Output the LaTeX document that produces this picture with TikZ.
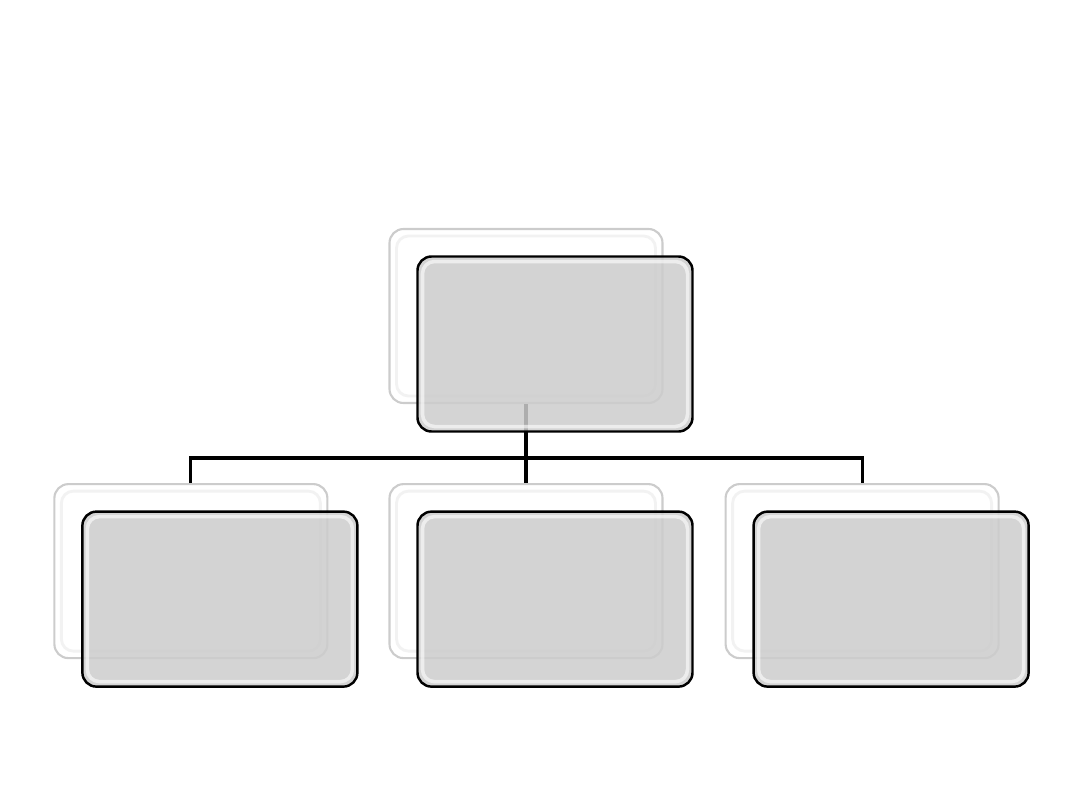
\documentclass[tikz,border=0pt]{standalone}
\usepackage{xcolor}
\usepackage{tikz}
\usetikzlibrary{positioning, backgrounds}

\begin{document}
\begin{tikzpicture}[
    x=1cm, y=1cm,
    backbox/.style={rectangle, draw=gray!40, line width=0.6pt, fill=white, rounded corners=0.14cm, minimum width=2.73cm, minimum height=1.74cm, inner sep=0pt,
        path picture={\draw[gray!10, line width=0.8pt, rounded corners=0.12cm] ([shift={(0.07,0.07)}]path picture bounding box.south west) rectangle ([shift={(-0.07,-0.07)}]path picture bounding box.north east);}},
    frontbox/.style={rectangle, draw=black, line width=0.7pt, fill=gray!40, fill opacity=0.85, draw opacity=1, rounded corners=0.14cm, minimum width=2.75cm, minimum height=1.75cm, inner sep=0pt,
        path picture={\draw[white, opacity=0.6, line width=1pt, rounded corners=0.12cm] ([shift={(0.05,0.05)}]path picture bounding box.south west) rectangle ([shift={(-0.05,-0.05)}]path picture bounding box.north east);}},
    link/.style={draw=black, line width=0.9pt}
]

% Page
\useasboundingbox (0,0) rectangle (10.8,8.1);

% Back boxes
\node[backbox] (topb) at (5.26,4.94) {};
\node[backbox, below=0.79cm of topb] (midb) {};
\node[backbox, left=0.6cm of midb] (leftb) {};
\node[backbox, right=0.61cm of midb] (rightb) {};

% Connectors
\coordinate (bus) at ([yshift=0.25cm]midb.north);
\draw[link] (topb.south) -- (midb.north);
\draw[link] (leftb.north) |- (bus) -| (rightb.north);

% Front boxes
\node[frontbox] (topf) at ([shift={(0.29,-0.28)}]topb) {};
\node[frontbox] (leftf) at ([shift={(0.29,-0.28)}]leftb) {};
\node[frontbox] (midf) at ([shift={(0.29,-0.28)}]midb) {};
\node[frontbox] (rightf) at ([shift={(0.29,-0.28)}]rightb) {};

\end{tikzpicture}
\end{document}
